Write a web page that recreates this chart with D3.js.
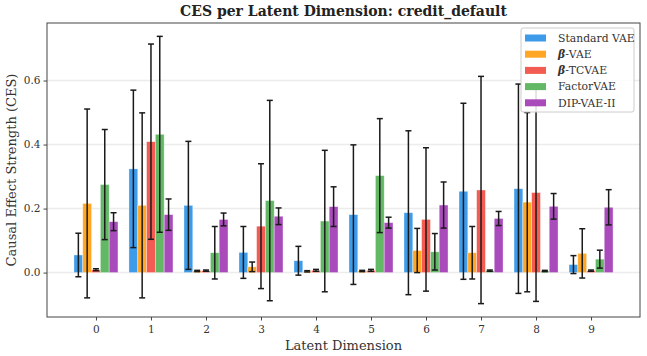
<!DOCTYPE html>
<html lang="en">
  <head>
    <meta charset="UTF-8" />
    <title>CES per Latent Dimension</title>
    <style>
      body { margin: 0; background: #fff; }
      svg text { font-family: "DejaVu Serif", serif; fill: #222; }
    </style>
  </head>
  <body>
    <svg id="container" width="647" height="356"></svg>
  </body>
  <script src="https://cdn.jsdelivr.net/npm/d3@7"></script>
  <script>
    // data
    let dims = [0, 1, 2, 3, 4, 5, 6, 7, 8, 9];
    let models = ["Standard VAE", "β-VAE", "β-TCVAE", "FactorVAE", "DIP-VAE-II"];
    let colors = ["#3d9bea", "#ffa624", "#f25c52", "#62b865", "#a94bbb"];
    let stdVae = [0.055, 0.324, 0.210, 0.063, 0.037, 0.181, 0.187, 0.254, 0.262, 0.025];
    let stdVaeErr = [0.068, 0.246, 0.200, 0.081, 0.045, 0.218, 0.256, 0.275, 0.327, 0.028];
    let betaVae = [0.216, 0.210, 0.005, 0.018, 0.004, 0.005, 0.069, 0.062, 0.220, 0.060];
    let betaVaeErr = [0.295, 0.289, 0.002, 0.015, 0.002, 0.002, 0.069, 0.082, 0.280, 0.077];
    let betaTc = [0.009, 0.409, 0.006, 0.145, 0.007, 0.007, 0.166, 0.258, 0.250, 0.006];
    let betaTcErr = [0.003, 0.305, 0.002, 0.195, 0.003, 0.003, 0.224, 0.355, 0.340, 0.002];
    let factorVae = [0.275, 0.432, 0.062, 0.225, 0.161, 0.303, 0.065, 0.006, 0.005, 0.042];
    let factorVaeErr = [0.172, 0.306, 0.082, 0.313, 0.221, 0.178, 0.057, 0.002, 0.002, 0.028];
    let dipVae = [0.159, 0.181, 0.166, 0.176, 0.206, 0.156, 0.211, 0.169, 0.207, 0.204];
    let dipVaeErr = [0.028, 0.049, 0.020, 0.026, 0.062, 0.017, 0.072, 0.022, 0.040, 0.055];

    let means = [stdVae, betaVae, betaTc, factorVae, dipVae];
    let errs = [stdVaeErr, betaVaeErr, betaTcErr, factorVaeErr, dipVaeErr];

    let W = 647, H = 356;
    let m = { left: 47, right: 7, top: 23, bottom: 39 };
    let svg = d3.select("#container");
    let barW = 0.16;

    // flatten into records
    let rows = [];
    models.forEach((name, j) => {
      dims.forEach((d, i) => {
        rows.push({ j: j, dim: d, pos: d + (j - 2) * barW, v: means[j][i], e: errs[j][i] });
      });
    });

    // matplotlib-like 5% margins
    let xLo = d3.min(rows, (r) => r.pos) - barW / 2;
    let xHi = d3.max(rows, (r) => r.pos) + barW / 2;
    let yLo = Math.min(0, d3.min(rows, (r) => r.v - r.e));
    let yHi = d3.max(rows, (r) => r.v + r.e);
    let xPad = (xHi - xLo) * 0.05, yPad = (yHi - yLo) * 0.05;

    let x = d3.scaleLinear().domain([xLo - xPad, xHi + xPad]).range([m.left, W - m.right]);
    let y = d3.scaleLinear().domain([yLo - yPad, yHi + yPad]).range([H - m.bottom, m.top]);

    // grid
    let yTicks = [0, 0.2, 0.4, 0.6];
    svg.append("g").selectAll("line").data(yTicks).enter().append("line")
      .attr("x1", m.left).attr("x2", W - m.right)
      .attr("y1", (d) => y(d)).attr("y2", (d) => y(d))
      .style("stroke", "#ececec").style("stroke-width", 1.5);

    // bars
    let body = svg.append("g");
    body.selectAll("rect").data(rows).enter().append("rect")
      .attr("x", (d) => x(d.pos - barW / 2))
      .attr("width", (d) => x(d.pos + barW / 2) - x(d.pos - barW / 2))
      .attr("y", (d) => y(Math.max(0, d.v)))
      .attr("height", (d) => Math.abs(y(0) - y(d.v)))
      .style("fill", (d) => colors[d.j])
      .style("stroke", "#ffffff").style("stroke-opacity", 0.5).style("stroke-width", 0.7);

    // error bars
    let eb = svg.append("g").style("stroke", "#1a1a1a").style("stroke-width", 1.5);
    let ebg = eb.selectAll("g").data(rows).enter().append("g");
    ebg.append("line")
      .attr("x1", (d) => x(d.pos)).attr("x2", (d) => x(d.pos))
      .attr("y1", (d) => y(d.v - d.e)).attr("y2", (d) => y(d.v + d.e));
    ebg.append("line")
      .attr("x1", (d) => x(d.pos) - 3).attr("x2", (d) => x(d.pos) + 3)
      .attr("y1", (d) => y(d.v + d.e)).attr("y2", (d) => y(d.v + d.e));
    ebg.append("line")
      .attr("x1", (d) => x(d.pos) - 3).attr("x2", (d) => x(d.pos) + 3)
      .attr("y1", (d) => y(d.v - d.e)).attr("y2", (d) => y(d.v - d.e));

    // axes
    let xAxis = d3.axisBottom(x).tickValues(dims).tickFormat(d3.format("d")).tickSize(3.5).tickSizeOuter(0);
    let gx = svg.append("g").attr("transform", `translate(0,${H - m.bottom})`).call(xAxis);
    let yAxis = d3.axisLeft(y).tickValues(yTicks).tickFormat(d3.format(".1f")).tickSize(3.5).tickSizeOuter(0);
    let gy = svg.append("g").attr("transform", `translate(${m.left},0)`).call(yAxis);
    [gx, gy].forEach((g) => {
      g.select(".domain").remove();
      g.selectAll(".tick line").style("stroke", "#444");
      g.selectAll(".tick text").style("font-family", "DejaVu Serif").style("font-size", "10.5px").style("fill", "#333");
    });
    gx.selectAll(".tick text").attr("dy", "0.9em");

    // frame
    svg.append("rect").attr("x", m.left).attr("y", m.top)
      .attr("width", W - m.left - m.right).attr("height", H - m.top - m.bottom)
      .style("fill", "none").style("stroke", "#444").style("stroke-width", 1);

    // titles
    svg.append("text").attr("x", (m.left + W - m.right) / 2).attr("y", 16)
      .attr("text-anchor", "middle").style("font-size", "14px").style("font-weight", "bold")
      .text("CES per Latent Dimension: credit_default");
    svg.append("text").attr("x", (m.left + W - m.right) / 2).attr("y", 350)
      .attr("text-anchor", "middle").style("font-size", "13px").style("fill", "#333")
      .text("Latent Dimension");
    svg.append("text").attr("transform", `translate(16,${(m.top + H - m.bottom) / 2}) rotate(-90)`)
      .attr("text-anchor", "middle").style("font-size", "13px").style("fill", "#333")
      .text("Causal Effect Strength (CES)");

    // legend
    let lg = svg.append("g").attr("transform", "translate(521,28)");
    lg.append("rect").attr("width", 113).attr("height", 84).attr("rx", 2)
      .style("fill", "#fff").style("fill-opacity", 0.85).style("stroke", "#ccc");
    let items = lg.selectAll("g.item").data(models).enter().append("g")
      .attr("transform", (d, i) => `translate(4,${10 + i * 16.2})`);
    items.append("rect").attr("y", -3.5).attr("width", 21).attr("height", 7)
      .style("fill", (d, i) => colors[i]);
    let lt = items.append("text").attr("x", 33).attr("dy", "0.35em")
      .style("font-size", "10.8px").style("fill", "#333");
    lt.each(function (d) {
      let t = d3.select(this);
      if (d.startsWith("β")) {
        t.append("tspan").style("font-style", "italic").style("font-weight", "bold").text("β");
        t.append("tspan").text(d.slice(1));
      } else {
        t.text(d);
      }
    });
  </script>
</html>
